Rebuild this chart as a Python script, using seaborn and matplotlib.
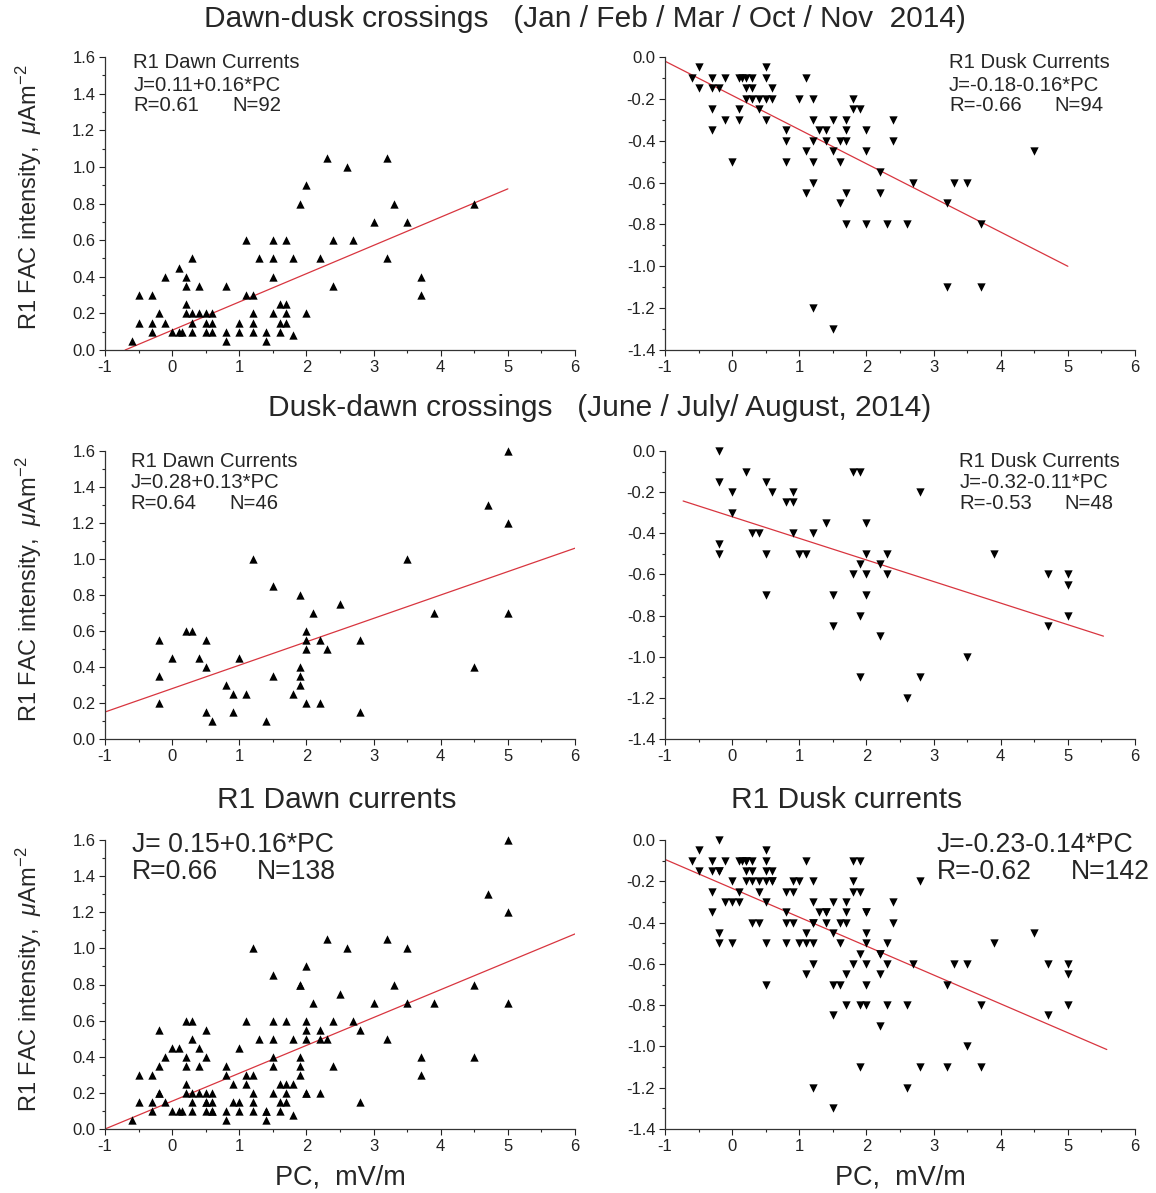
import pandas as pd
import seaborn as sns
import matplotlib
matplotlib.use("Agg")
import matplotlib.pyplot as plt
from matplotlib.ticker import MultipleLocator, FormatStrFormatter

# --- Jan/Feb/Mar/Oct/Nov 2014 (dawn-dusk crossings) ---
dawn_w_pc = [-0.6, -0.5, -0.5, -0.3, -0.3, -0.3, -0.2, -0.1, -0.1, 0.0, 0.1, 0.1, 0.15,
             0.2, 0.2, 0.2, 0.2, 0.3, 0.3, 0.3, 0.3, 0.4, 0.4, 0.5, 0.5, 0.5, 0.6, 0.6, 0.6,
             0.8, 0.8, 0.8, 1.0, 1.0, 1.1, 1.1, 1.2, 1.2, 1.2, 1.2, 1.3, 1.4, 1.4,
             1.5, 1.5, 1.5, 1.5, 1.6, 1.6, 1.6, 1.7, 1.7, 1.7, 1.7, 1.8, 1.8, 1.9, 2.0, 2.0,
             2.2, 2.3, 2.4, 2.4, 2.6, 2.7, 3.0, 3.2, 3.2, 3.3, 3.5, 3.7, 3.7, 4.5]
dawn_w_j = [0.05, 0.3, 0.15, 0.3, 0.15, 0.1, 0.2, 0.4, 0.15, 0.1, 0.45, 0.1, 0.1,
            0.4, 0.35, 0.25, 0.2, 0.5, 0.2, 0.15, 0.1, 0.35, 0.2, 0.2, 0.15, 0.1, 0.2, 0.15, 0.1,
            0.35, 0.1, 0.05, 0.15, 0.1, 0.6, 0.3, 0.3, 0.2, 0.15, 0.1, 0.5, 0.1, 0.05,
            0.6, 0.5, 0.4, 0.2, 0.25, 0.15, 0.1, 0.6, 0.25, 0.2, 0.15, 0.5, 0.08, 0.8, 0.9, 0.2,
            0.5, 1.05, 0.6, 0.35, 1.0, 0.6, 0.7, 1.05, 0.5, 0.8, 0.7, 0.4, 0.3, 0.8]

dusk_w_pc = [-0.6, -0.5, -0.5, -0.3, -0.3, -0.3, -0.3, -0.2, -0.1, -0.1, 0.0, 0.1, 0.1, 0.1,
             0.15, 0.2, 0.2, 0.2, 0.3, 0.3, 0.3, 0.4, 0.4, 0.5, 0.5, 0.5, 0.5, 0.6, 0.6,
             0.8, 0.8, 0.8, 1.0, 1.1, 1.1, 1.1, 1.2, 1.2, 1.2, 1.2, 1.2, 1.2, 1.3, 1.4, 1.4,
             1.5, 1.5, 1.5, 1.6, 1.6, 1.6, 1.7, 1.7, 1.7, 1.7, 1.7, 1.8, 1.8, 1.9,
             2.0, 2.0, 2.0, 2.2, 2.2, 2.3, 2.4, 2.4, 2.6, 2.7, 3.2, 3.2, 3.3, 3.5, 3.7, 3.7, 4.5]
dusk_w_j = [-0.1, -0.05, -0.15, -0.1, -0.15, -0.25, -0.35, -0.15, -0.1, -0.3, -0.5, -0.1, -0.25, -0.3,
            -0.1, -0.1, -0.15, -0.2, -0.1, -0.15, -0.2, -0.2, -0.25, -0.05, -0.1, -0.2, -0.3, -0.15, -0.2,
            -0.35, -0.4, -0.5, -0.2, -0.1, -0.45, -0.65, -0.2, -0.3, -0.4, -0.5, -0.6, -1.2, -0.35, -0.35, -0.4,
            -0.3, -0.45, -1.3, -0.4, -0.5, -0.7, -0.3, -0.35, -0.4, -0.65, -0.8, -0.2, -0.25, -0.25,
            -0.35, -0.45, -0.8, -0.55, -0.65, -0.8, -0.3, -0.4, -0.8, -0.6, -0.7, -1.1, -0.6, -0.6, -0.8, -1.1, -0.45]

# --- June/July/August 2014 (dusk-dawn crossings) ---
dawn_s_pc = [5.0, 4.7, 5.0, 1.2, 3.5, 1.5, 1.9, 2.5, 2.1, 3.9, 5.0, 0.2, 0.3, 2.0,
             -0.2, 0.5, 2.0, 2.2, 2.8, 2.0, 2.3, 0.0, 0.4, 1.0, 0.5, 1.9, 4.5,
             -0.2, 1.5, 1.9, 0.8, 1.9, 0.9, 1.1, 1.8, -0.2, 2.0, 2.2, 0.5, 0.9, 2.8, 0.6, 1.4]
dawn_s_j = [1.6, 1.3, 1.2, 1.0, 1.0, 0.85, 0.8, 0.75, 0.7, 0.7, 0.7, 0.6, 0.6, 0.6,
            0.55, 0.55, 0.55, 0.55, 0.55, 0.5, 0.5, 0.45, 0.45, 0.45, 0.4, 0.4, 0.4,
            0.35, 0.35, 0.35, 0.3, 0.3, 0.25, 0.25, 0.25, 0.2, 0.2, 0.2, 0.15, 0.15, 0.15, 0.1, 0.1]

dusk_s_pc = [-0.2, -0.2, -0.2, -0.2, 0.0, 0.0, 0.2, 0.3, 0.4, 0.5, 0.5, 0.5, 0.6, 0.8,
             0.9, 0.9, 0.9, 1.0, 1.1, 1.2, 1.4, 1.5, 1.5, 1.8, 1.9, 1.8, 1.9, 1.9, 1.9,
             2.0, 2.0, 2.0, 2.0, 2.2, 2.2, 2.3, 2.3, 2.6, 2.8, 2.8, 3.5, 3.9,
             4.7, 4.7, 5.0, 5.0, 5.0]
dusk_s_j = [0.0, -0.15, -0.45, -0.5, -0.2, -0.3, -0.1, -0.4, -0.4, -0.15, -0.5, -0.7, -0.2, -0.25,
            -0.2, -0.25, -0.4, -0.5, -0.5, -0.4, -0.35, -0.7, -0.85, -0.1, -0.1, -0.6, -0.55, -0.8, -1.1,
            -0.35, -0.5, -0.6, -0.7, -0.55, -0.9, -0.5, -0.6, -1.2, -0.2, -1.1, -1.0, -0.5,
            -0.6, -0.85, -0.6, -0.65, -0.8]

# fitted lines, end points as drawn
fit_dawn_w = ([-0.7, 5.0], [0.0, 0.88])
fit_dusk_w = ([-1.0, 5.0], [-0.02, -1.0])
fit_dawn_s = ([-1.0, 6.0], [0.15, 1.06])
fit_dusk_s = ([-0.73, 5.53], [-0.243, -0.9])
fit_dawn_all = ([-1.0, 6.0], [0.0, 1.08])
fit_dusk_all = ([-1.0, 5.58], [-0.094, -1.015])

stats = {
    "dawn_w": ["R1 Dawn Currents", "J=0.11+0.16*PC", "R=0.61", "N=92"],
    "dusk_w": ["R1 Dusk Currents", "J=-0.18-0.16*PC", "R=-0.66", "N=94"],
    "dawn_s": ["R1 Dawn Currents", "J=0.28+0.13*PC", "R=0.64", "N=46"],
    "dusk_s": ["R1 Dusk Currents", "J=-0.32-0.11*PC", "R=-0.53", "N=48"],
    "dawn_all": ["J= 0.15+0.16*PC", "R=0.66", "N=138"],
    "dusk_all": ["J=-0.23-0.14*PC", "R=-0.62", "N=142"],
}

sns.set_style("ticks")
plt.rcParams["font.family"] = ["Liberation Sans", "DejaVu Sans"]
plt.rcParams["mathtext.fontset"] = "custom"
plt.rcParams["mathtext.rm"] = "Liberation Sans"
plt.rcParams["mathtext.it"] = "Liberation Sans:italic"

W, H = 1156, 1193
fig = plt.figure(figsize=(W / 100, H / 100), dpi=100)


def make_ax(left, top, right, bottom):
    return fig.add_axes([left / W, 1 - bottom / H, (right - left) / W, (bottom - top) / H])


rows = [(57, 350), (451, 739), (840, 1129)]
cols = [(105, 575), (665, 1135)]

panels = [
    ("dawn_w", dawn_w_pc, dawn_w_j, fit_dawn_w, "^"),
    ("dusk_w", dusk_w_pc, dusk_w_j, fit_dusk_w, "v"),
    ("dawn_s", dawn_s_pc, dawn_s_j, fit_dawn_s, "^"),
    ("dusk_s", dusk_s_pc, dusk_s_j, fit_dusk_s, "v"),
    ("dawn_all", dawn_w_pc + dawn_s_pc, dawn_w_j + dawn_s_j, fit_dawn_all, "^"),
    ("dusk_all", dusk_w_pc + dusk_s_pc, dusk_w_j + dusk_s_j, fit_dusk_all, "v"),
]

# text placement (axes fraction) per panel: x of label, x of N, y of lines, size
txt_pos = {
    "dawn_w": (0.06, 0.27, [0.980, 0.904, 0.833], 14.6),
    "dusk_w": (0.604, 0.828, [0.980, 0.904, 0.833], 14.6),
    "dawn_s": (0.055, 0.264, [0.962, 0.889, 0.816], 14.6),
    "dusk_s": (0.626, 0.849, [0.962, 0.889, 0.816], 14.6),
    "dawn_all": (0.057, 0.323, [0.983, 0.889], 19.2),
    "dusk_all": (0.578, 0.864, [0.983, 0.889], 19.2),
}

for i, (key, xs, ys, fit, mk) in enumerate(panels):
    r, c = divmod(i, 2)
    ax = make_ax(cols[c][0], rows[r][0], cols[c][1], rows[r][1])
    df = pd.DataFrame({"pc": xs, "j": ys})
    sns.scatterplot(data=df, x="pc", y="j", marker=mk, color="black", s=36,
                    linewidth=0, ax=ax, zorder=3, clip_on=False)
    sns.lineplot(x=fit[0], y=fit[1], color="#d8353f", linewidth=0.9, ax=ax, zorder=2)

    ax.set_xlim(-1, 6)
    if key.startswith("dawn"):
        ax.set_ylim(0, 1.6)
    else:
        ax.set_ylim(-1.4, 0)
    ax.xaxis.set_major_locator(MultipleLocator(1))
    ax.xaxis.set_minor_locator(MultipleLocator(0.5))
    ax.yaxis.set_major_locator(MultipleLocator(0.2))
    ax.yaxis.set_minor_locator(MultipleLocator(0.1))
    ax.yaxis.set_major_formatter(FormatStrFormatter("%.1f"))
    ax.xaxis.set_major_formatter(FormatStrFormatter("%d"))
    ax.tick_params(which="major", length=4, width=0.8, labelsize=12, pad=3, colors="#222222")
    ax.tick_params(which="minor", length=2.5, width=0.8)
    sns.despine(ax=ax)
    for sp in ("left", "bottom"):
        ax.spines[sp].set_color("#333333")
        ax.spines[sp].set_linewidth(0.9)

    ax.set_xlabel("")
    ax.set_ylabel("")
    if c == 0:
        ax.set_ylabel(r"R1 FAC intensity,  $\mu$Am$^{-2}$", fontsize=17)
        ax.yaxis.set_label_coords(-0.13, 0.52)
    if r == 2:
        ax.set_xlabel("PC,  mV/m", fontsize=19.5, labelpad=8)

    x0, xn, ylines, fs = txt_pos[key]
    lines = stats[key]
    if len(lines) == 4:
        ax.text(x0, ylines[0], lines[0], transform=ax.transAxes, fontsize=fs, va="center")
        ax.text(x0, ylines[1], lines[1], transform=ax.transAxes, fontsize=fs, va="center")
        ax.text(x0, ylines[2], lines[2], transform=ax.transAxes, fontsize=fs, va="center")
        ax.text(xn, ylines[2], lines[3], transform=ax.transAxes, fontsize=fs, va="center")
    else:
        ax.text(x0, ylines[0], lines[0], transform=ax.transAxes, fontsize=fs, va="center")
        ax.text(x0, ylines[1], lines[1], transform=ax.transAxes, fontsize=fs, va="center")
        ax.text(xn, ylines[1], lines[2], transform=ax.transAxes, fontsize=fs, va="center")

fig.text(585 / W, 1 - 19 / H, "Dawn-dusk crossings   (Jan / Feb / Mar / Oct / Nov  2014)",
         ha="center", va="center", fontsize=21.5)
fig.text(600 / W, 1 - 408 / H, "Dusk-dawn crossings   (June / July/ August, 2014)",
         ha="center", va="center", fontsize=21.5)
fig.text(337 / W, 1 - 800 / H, "R1 Dawn currents", ha="center", va="center", fontsize=21.5)
fig.text(847 / W, 1 - 800 / H, "R1 Dusk currents", ha="center", va="center", fontsize=21.5)

fig.savefig("out.png", dpi=100)
